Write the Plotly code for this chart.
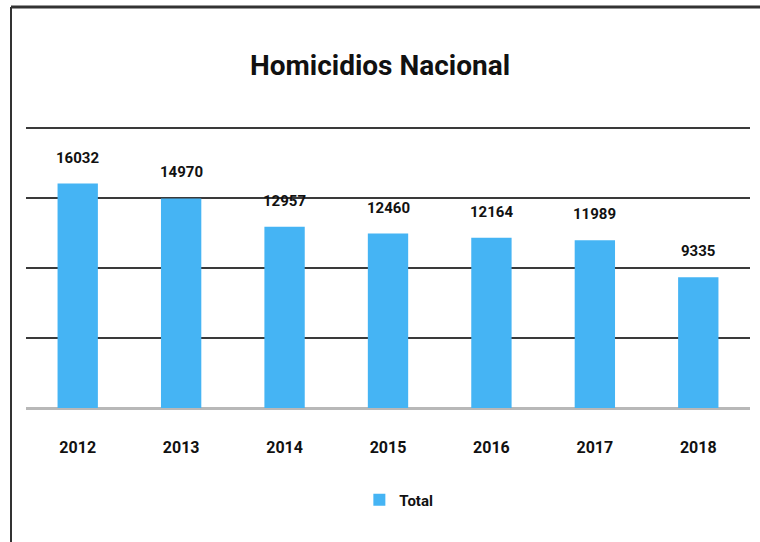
import plotly.graph_objects as go

years = ['2012', '2013', '2014', '2015', '2016', '2017', '2018']
totals = [16032, 14970, 12957, 12460, 12164, 11989, 9335]
series_name = 'Total'
title_text = 'Homicidios Nacional'

W, H = 760, 542
L, R, T, B = 26, 10, 124, 134
pw, ph = W - L - R, H - T - B

font_family = 'Roboto, Liberation Sans, sans-serif'
bar_color = '#45B4F4'


def px_x(px):
    return (px - L) / pw


def px_y(py):
    return (H - B - py) / ph


fig = go.Figure()
fig.add_trace(go.Bar(x=years, y=totals, name='<b>' + series_name + '</b>',
                     marker=dict(color=bar_color, line=dict(width=0))))

# value labels above each bar (category index as x)
for i, v in enumerate(totals):
    fig.add_annotation(x=i, y=v, text='<b>' + str(v) + '</b>', showarrow=False,
                       yanchor='bottom', yshift=15,
                       font=dict(family=font_family, size=15, color='#111'))

# picture frame (left and top border)
fig.add_shape(type='line', xref='paper', yref='paper',
              x0=px_x(11), x1=px_x(11), y0=px_y(7), y1=px_y(560),
              line=dict(color='#333', width=2))
fig.add_shape(type='line', xref='paper', yref='paper',
              x0=px_x(11), x1=px_x(780), y0=px_y(7), y1=px_y(7),
              line=dict(color='#333', width=3))

fig.update_layout(
    width=W, height=H,
    margin=dict(l=L, r=R, t=T, b=B),
    paper_bgcolor='white', plot_bgcolor='white',
    title=dict(text='<b>' + title_text + '</b>', x=0.5, xanchor='center',
               y=1 - 65 / H, yanchor='middle',
               font=dict(family=font_family, size=28, color='#111')),
    bargap=0.61,
    showlegend=True,
    legend=dict(orientation='h', x=0.515, xanchor='center', y=px_y(500), yanchor='middle',
                font=dict(family=font_family, size=15, color='#111')),
    xaxis=dict(type='category', showgrid=False, showline=False, ticks='',
               ticklabelstandoff=28,
               tickfont=dict(family=font_family, size=16, color='#111'),
               tickprefix='<b>', ticksuffix='</b>'),
    yaxis=dict(range=[0, 20290], tickvals=[0, 5000, 10000, 15000, 20000],
               showticklabels=False,
               showgrid=True, gridcolor='#3a3a3a', gridwidth=2,
               zeroline=True, zerolinecolor='#b8b8b8', zerolinewidth=3,
               showline=False),
)

fig.write_html('out.html', config={'displayModeBar': False},
               post_script="document.body.style.margin='0';document.body.style.overflow='hidden';")
